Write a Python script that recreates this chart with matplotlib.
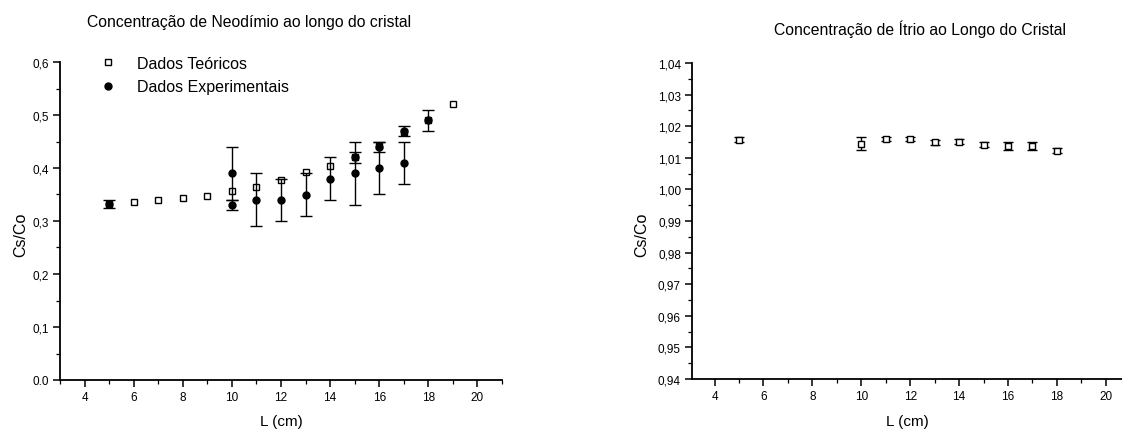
import matplotlib
matplotlib.use("Agg")
import matplotlib.pyplot as plt
from matplotlib.lines import Line2D
from matplotlib.ticker import MultipleLocator, FixedLocator, FixedFormatter

plt.rcParams['font.family'] = ['Liberation Sans', 'DejaVu Sans']

# ---------------- data: Neodymium (left) ----------------
nd_theo_x = [5, 6, 7, 8, 9, 10, 11, 12, 13, 14, 15, 16, 17, 18, 19]
nd_theo_y = [0.333, 0.335, 0.339, 0.344, 0.348, 0.356, 0.364, 0.378, 0.392,
             0.403, 0.420, 0.442, 0.468, 0.490, 0.521]

nd_expA_x = [10, 11, 12, 13, 14, 15, 16, 17]
nd_expA_y = [0.39, 0.34, 0.34, 0.35, 0.38, 0.39, 0.40, 0.41]
nd_expA_err = [0.05, 0.05, 0.04, 0.04, 0.04, 0.06, 0.05, 0.04]

nd_expB_x = [5, 10, 15, 16, 17, 18]
nd_expB_y = [0.332, 0.330, 0.420, 0.440, 0.470, 0.490]
nd_expB_err = [0.008, 0.010, 0.010, 0.010, 0.010, 0.020]

nd_yticks = [0.0, 0.1, 0.2, 0.3, 0.4, 0.5, 0.6]
nd_yticklabels = ["0.0", "0,1", "0,2", "0,3", "0,4", "0,5", "0,6"]

# ---------------- data: Yttrium (right) ----------------
y_x = [5, 10, 11, 12, 13, 14, 15, 16, 17, 18]
y_y = [1.0157, 1.0145, 1.0159, 1.0159, 1.0149, 1.0151, 1.0142, 1.0138, 1.0138, 1.0122]
y_err = [0.0008, 0.0020, 0.0007, 0.0007, 0.0007, 0.0007, 0.0008, 0.0013, 0.0013, 0.0008]

y_yticks = [0.94, 0.95, 0.96, 0.97, 0.98, 0.99, 1.00, 1.01, 1.02, 1.03, 1.04]
y_yticklabels = ["0,94", "0,95", "0,96", "0,97", "0,98", "0,99", "1,00",
                 "1,01", "1,02", "1,03", "1,04"]

xticks = [4, 6, 8, 10, 12, 14, 16, 18, 20]

W, H = 1122, 431
fig = plt.figure(figsize=(W / 100, H / 100), dpi=100)


def px_axes(l, t, r, b):
    return fig.add_axes([l / W, 1 - b / H, (r - l) / W, (b - t) / H])


def style(ax):
    for s in ('top', 'right'):
        ax.spines[s].set_visible(False)
    for s in ('left', 'bottom'):
        ax.spines[s].set_linewidth(1.3)
    ax.tick_params(which='major', direction='out', length=5, width=1.1,
                   labelsize=8.5, pad=3)
    ax.tick_params(which='minor', direction='out', length=3, width=0.9)
    ax.xaxis.set_major_locator(FixedLocator(xticks))
    ax.xaxis.set_minor_locator(MultipleLocator(1))


# ---------------- left axes ----------------
ax1 = px_axes(60, 63, 502, 381)
style(ax1)
ax1.set_xlim(3, 21)
ax1.set_ylim(0, 0.6)
ax1.yaxis.set_major_locator(FixedLocator(nd_yticks))
ax1.yaxis.set_major_formatter(FixedFormatter(nd_yticklabels))
ax1.yaxis.set_minor_locator(MultipleLocator(0.05))

ax1.plot(nd_theo_x, nd_theo_y, 's', ms=4.5, mfc='white', mec='black',
         mew=1.0, zorder=2)
ax1.errorbar(nd_expA_x, nd_expA_y, yerr=nd_expA_err, fmt='o', color='black',
             ms=5, elinewidth=1.0, capsize=4.3, capthick=1.0, zorder=3)
ax1.errorbar(nd_expB_x, nd_expB_y, yerr=nd_expB_err, fmt='o', color='black',
             ms=5, elinewidth=1.0, capsize=4.3, capthick=1.0, zorder=3)

leg_handles = [
    Line2D([], [], ls='none', marker='s', ms=4.5, mfc='white', mec='black', mew=1.0),
    Line2D([], [], ls='none', marker='o', ms=5, color='black'),
]
ax1.legend(leg_handles, ['Dados Teóricos', 'Dados Experimentais'],
           loc='upper left', bbox_to_anchor=(0.09, 1.02), frameon=False,
           fontsize=11.5, handlelength=1.0, handletextpad=1.3,
           labelspacing=0.55, borderpad=0, borderaxespad=0, numpoints=1)

ax1.set_xlabel('L (cm)', fontsize=11, va='center')
ax1.xaxis.set_label_coords(0.5, -0.128)
ax1.set_ylabel('Cs/Co', fontsize=11.5, va='center')
ax1.yaxis.set_label_coords(-0.088, 0.46)

fig.text(249 / W, 1 - 23 / H, 'Concentração de Neodímio ao longo do cristal',
         ha='center', va='center', fontsize=11.3)

# ---------------- right axes ----------------
ax2 = px_axes(692, 64, 1122, 380)
style(ax2)
ax2.set_xlim(3.08, 20.66)
ax2.set_ylim(0.94, 1.04)
ax2.yaxis.set_major_locator(FixedLocator(y_yticks))
ax2.yaxis.set_major_formatter(FixedFormatter(y_yticklabels))
ax2.yaxis.set_minor_locator(MultipleLocator(0.005))

ax2.errorbar(y_x, y_y, yerr=y_err, fmt='s', ms=3.8, mfc='white', mec='black',
             mew=1.0, color='black', elinewidth=1.0, capsize=3.4, capthick=1.1)

ax2.set_xlabel('L (cm)', fontsize=11, va='center')
ax2.xaxis.set_label_coords(0.5, -0.132)
ax2.set_ylabel('Cs/Co', fontsize=11.5, va='center')
ax2.yaxis.set_label_coords(-0.116, 0.46)

fig.text(920 / W, 1 - 29 / H, 'Concentração de Ítrio ao Longo do Cristal',
         ha='center', va='center', fontsize=11.3)

fig.savefig('out.png', dpi=100)
